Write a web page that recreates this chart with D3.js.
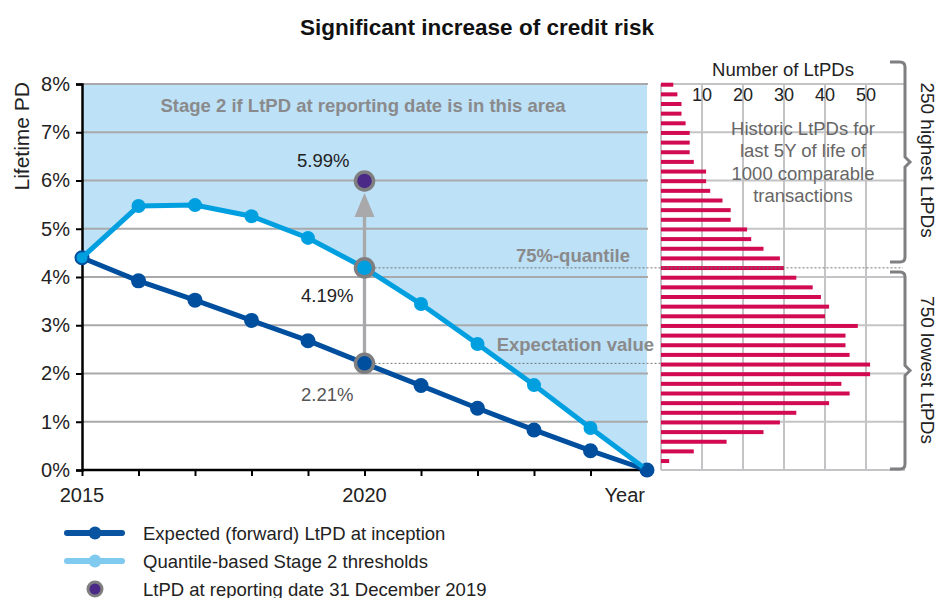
<!DOCTYPE html>
<html>
<head>
<meta charset="utf-8">
<script src="https://cdnjs.cloudflare.com/ajax/libs/d3/7.8.5/d3.min.js"></script>
<style>
  html, body { margin: 0; padding: 0; background: #fff; }
  svg { display: block; font-family: "Liberation Sans", Arial, sans-serif; }
</style>
</head>
<body>
<svg id="chart" width="938" height="598"></svg>
<script>
// values
var years = [2015, 2016, 2017, 2018, 2019, 2020, 2021, 2022, 2023, 2024, 2025];
var expectedPD = [4.40, 3.92, 3.52, 3.10, 2.68, 2.21, 1.75, 1.28, 0.83, 0.40, 0.00];
var thresholdPD = [4.40, 5.47, 5.49, 5.26, 4.81, 4.19, 3.44, 2.61, 1.76, 0.87, 0.00];
var reportingYear = 2020;
var reportingPD = 5.99;
var yTicks = [0, 1, 2, 3, 4, 5, 6, 7, 8];
var xLabels = [{year: 2015, text: "2015"}, {year: 2020, text: "2020"}];
// histogram, 0.2% bins from 8% downwards
var binWidth = 0.2;
var binCounts = [3, 4, 5, 5, 6, 7, 7, 7, 8, 11, 11, 12, 15, 17, 17, 21, 22, 25, 29, 30,
                 33, 37, 39, 41, 40, 48, 45, 45, 46, 51, 51, 44, 46, 41, 33, 29, 25, 16, 8, 2];
var histTicks = [10, 20, 30, 40, 50];
var histNote = ["Historic LtPDs for", "last 5Y of life of", "1000 comparable", "transactions"];
var legendItems = ["Expected (forward) LtPD at inception", "Quantile-based Stage 2 thresholds", "LtPD at reporting date 31 December 2019"];

var c_dark = "#004f9e", c_light = "#009fe0", c_fill = "#bde1f6", c_grid = "#a9a9ab",
    c_bar = "#d20a52", c_note = "#8a8a8c", c_ring = "#7f7f81", c_purple = "#4a2a86";

var svg = d3.select("#chart");
var x = d3.scaleLinear().domain([2015, 2025]).range([82, 647]);
var y = d3.scaleLinear().domain([0, 8]).range([470, 84]);
var hx = d3.scaleLinear().domain([0, 60]).range([661, 907]);

svg.append("text")
    .attr("x", 477).attr("y", 35)
    .attr("text-anchor", "middle")
    .style("font-size", "22.5px").style("font-weight", "bold").attr("fill", "#111")
    .text("Significant increase of credit risk");

// shaded area above the threshold curve
var area = d3.area()
    .x(function (d, i) { return x(years[i]); })
    .y0(y(8))
    .y1(function (d) { return y(d); });
svg.append("path").datum(thresholdPD).attr("d", area).attr("fill", c_fill);

// grid, main plot
svg.append("g").selectAll("line").data(yTicks.slice(1)).join("line")
    .attr("x1", x(2015)).attr("x2", 648)
    .attr("y1", function (d) { return y(d); }).attr("y2", function (d) { return y(d); })
    .attr("stroke", c_grid).attr("stroke-width", 2);

// grid, histogram
svg.append("g").selectAll("line").data(yTicks).join("line")
    .attr("x1", hx(0)).attr("x2", 905)
    .attr("y1", function (d) { return y(d); }).attr("y2", function (d) { return y(d); })
    .attr("stroke", "#c4c4c6").attr("stroke-width", 2);
svg.append("g").selectAll("line").data([0].concat(histTicks)).join("line")
    .attr("x1", function (d) { return hx(d); }).attr("x2", function (d) { return hx(d); })
    .attr("y1", y(8)).attr("y2", y(0))
    .attr("stroke", "#c4c4c6").attr("stroke-width", 2);

svg.append("g").selectAll("rect").data(binCounts).join("rect")
    .attr("x", hx(0))
    .attr("y", function (d, i) { return y(8 - i * binWidth) - 1.3; })
    .attr("width", function (d) { return hx(d) - hx(0); })
    .attr("height", 4)
    .attr("fill", c_bar);

svg.append("text")
    .attr("x", 783).attr("y", 76).attr("text-anchor", "middle")
    .style("font-size", "18.5px").attr("fill", "#222")
    .text("Number of LtPDs");
svg.append("g").selectAll("text").data(histTicks).join("text")
    .attr("x", function (d) { return hx(d); }).attr("y", 101)
    .attr("text-anchor", "middle")
    .style("font-size", "18px").attr("fill", "#222")
    .text(function (d) { return d; });
svg.append("g").selectAll("text").data(histNote).join("text")
    .attr("x", 803).attr("y", function (d, i) { return 135 + i * 22.3; })
    .attr("text-anchor", "middle")
    .style("font-size", "18.5px").attr("fill", "#666")
    .text(function (d) { return d; });

// braces on the right
function brace(y0, y1) {
    var xa = 890, xb = 905, ym = (y0 + y1) / 2, r = 5;
    return "M" + xa + "," + y0 + " L" + (xb - r) + "," + y0 + " Q" + xb + "," + y0 + " " + xb + "," + (y0 + r) +
        " L" + xb + "," + (ym - 5) + " L" + (xb + 5) + "," + ym + " L" + xb + "," + (ym + 5) +
        " L" + xb + "," + (y1 - r) + " Q" + xb + "," + y1 + " " + (xb - r) + "," + y1 + " L" + xa + "," + y1;
}
svg.append("path").attr("d", brace(62, 262)).attr("fill", "none").attr("stroke", c_ring).attr("stroke-width", 3);
svg.append("path").attr("d", brace(272, 469)).attr("fill", "none").attr("stroke", c_ring).attr("stroke-width", 3);
[["250 highest LtPDs", 160], ["750 lowest LtPDs", 370]].forEach(function (t) {
    svg.append("text")
        .attr("transform", "translate(921," + t[1] + ") rotate(90)")
        .attr("text-anchor", "middle")
        .style("font-size", "19px").attr("fill", "#222")
        .text(t[0]);
});

// dotted reference lines
svg.append("line")
    .attr("x1", x(reportingYear) + 10).attr("x2", 903)
    .attr("y1", y(thresholdPD[5])).attr("y2", y(thresholdPD[5]))
    .attr("stroke", "#777").attr("stroke-width", 1).attr("stroke-dasharray", "2,2");
svg.append("line")
    .attr("x1", x(reportingYear) + 10).attr("x2", hx(0))
    .attr("y1", y(expectedPD[5])).attr("y2", y(expectedPD[5]))
    .attr("stroke", "#777").attr("stroke-width", 1).attr("stroke-dasharray", "2,2");

// axes
var yAxis = d3.axisLeft(y).tickValues(yTicks).tickSize(6).tickPadding(6)
    .tickFormat(function (d) { return d + "%"; });
var gy = svg.append("g").attr("transform", "translate(" + x(2015) + ",0)").call(yAxis);
gy.select(".domain").attr("stroke", "#000").attr("stroke-width", 2.5);
gy.selectAll(".tick line").attr("stroke", "#000").attr("stroke-width", 2);
gy.selectAll(".tick text").style("font-size", "20px").attr("fill", "#222")
    .attr("font-family", "Liberation Sans, Arial, sans-serif");

var xAxis = d3.axisBottom(x).tickValues(years).tickSize(6).tickFormat("");
var gx = svg.append("g").attr("transform", "translate(0," + y(0) + ")").call(xAxis);
gx.select(".domain").attr("stroke", "#000").attr("stroke-width", 2.5).attr("d", "M" + x(2015) + ",0H" + (x(2025) + 3));
gx.selectAll(".tick line").attr("stroke", "#000").attr("stroke-width", 2);
svg.append("g").selectAll("text").data(xLabels).join("text")
    .attr("x", function (d) { return x(d.year); }).attr("y", 502)
    .attr("text-anchor", "middle")
    .style("font-size", "20px").attr("fill", "#222")
    .text(function (d) { return d.text; });
svg.append("text")
    .attr("x", x(2025) - 2).attr("y", 502).attr("text-anchor", "end")
    .style("font-size", "20px").attr("fill", "#222").text("Year");

svg.append("text")
    .attr("transform", "translate(29,82) rotate(-90)")
    .attr("text-anchor", "end")
    .style("font-size", "21px").attr("fill", "#222")
    .text("Lifetime PD");

// series
var line = d3.line()
    .x(function (d, i) { return x(years[i]); })
    .y(function (d) { return y(d); });
svg.append("path").datum(expectedPD).attr("d", line)
    .attr("fill", "none").attr("stroke", c_dark).attr("stroke-width", 5);
svg.append("g").selectAll("circle").data(expectedPD).join("circle")
    .attr("cx", function (d, i) { return x(years[i]); })
    .attr("cy", function (d) { return y(d); })
    .attr("r", 7.5).attr("fill", c_dark);
svg.append("path").datum(thresholdPD).attr("d", line)
    .attr("fill", "none").attr("stroke", c_light).attr("stroke-width", 5);
svg.append("g").selectAll("circle").data(thresholdPD).join("circle")
    .attr("cx", function (d, i) { return x(years[i]); })
    .attr("cy", function (d) { return y(d); })
    .attr("r", function (d, i) { return i === 0 || i === years.length - 1 ? 5.5 : 7; })
    .attr("fill", function (d, i) { return i === years.length - 1 ? c_dark : c_light; });

// arrow from expectation to reporting date value
var ax = x(reportingYear);
svg.append("line")
    .attr("x1", ax).attr("x2", ax)
    .attr("y1", y(expectedPD[5])).attr("y2", 214)
    .attr("stroke", "#a9a9ac").attr("stroke-width", 3.3);
svg.append("path")
    .attr("d", "M" + (ax - 10) + ",217 L" + (ax + 10) + ",217 L" + ax + "," + (y(reportingPD) + 12) + "Z")
    .attr("fill", "#a9a9ac");

[[expectedPD[5], c_dark], [thresholdPD[5], c_light], [reportingPD, c_purple]].forEach(function (p) {
    svg.append("circle")
        .attr("cx", ax).attr("cy", y(p[0])).attr("r", 9)
        .attr("fill", p[1]).attr("stroke", c_ring).attr("stroke-width", 3.5);
});

// value labels
svg.append("text").attr("x", 297).attr("y", 167).style("font-size", "18.5px").attr("fill", "#222")
    .text(reportingPD.toFixed(2) + "%");
svg.append("text").attr("x", 301).attr("y", 302).style("font-size", "18.5px").attr("fill", "#222")
    .text(thresholdPD[5].toFixed(2) + "%");
svg.append("text").attr("x", 301).attr("y", 401).style("font-size", "18.5px").attr("fill", "#555")
    .text(expectedPD[5].toFixed(2) + "%");

// bold annotations
svg.append("text").attr("x", 363).attr("y", 112).attr("text-anchor", "middle")
    .style("font-size", "18.5px").style("font-weight", "bold").attr("fill", c_note)
    .text("Stage 2 if LtPD at reporting date is in this area");
svg.append("text").attr("x", 630).attr("y", 262).attr("text-anchor", "end")
    .style("font-size", "18.5px").style("font-weight", "bold").attr("fill", c_note)
    .text("75%-quantile");
svg.append("text").attr("x", 654).attr("y", 351).attr("text-anchor", "end")
    .style("font-size", "18.5px").style("font-weight", "bold").attr("fill", c_note)
    .text("Expectation value");

// legend
var legend = svg.append("g");
legendItems.forEach(function (label, i) {
    var ly = 533 + i * 28;
    if (i < 2) {
        var col = i === 0 ? "#0a53a0" : "#80c9ef";
        legend.append("line").attr("x1", 67).attr("x2", 122).attr("y1", ly).attr("y2", ly)
            .attr("stroke", col).attr("stroke-width", 6).attr("stroke-linecap", "round");
        legend.append("circle").attr("cx", 95).attr("cy", ly).attr("r", 6.5).attr("fill", col);
    } else {
        legend.append("circle").attr("cx", 95).attr("cy", ly).attr("r", 7)
            .attr("fill", c_purple).attr("stroke", c_ring).attr("stroke-width", 3);
    }
    legend.append("text").attr("x", 143).attr("y", ly + 6.5)
        .style("font-size", "18.5px").attr("fill", "#222").text(label);
});
</script>
</body>
</html>
